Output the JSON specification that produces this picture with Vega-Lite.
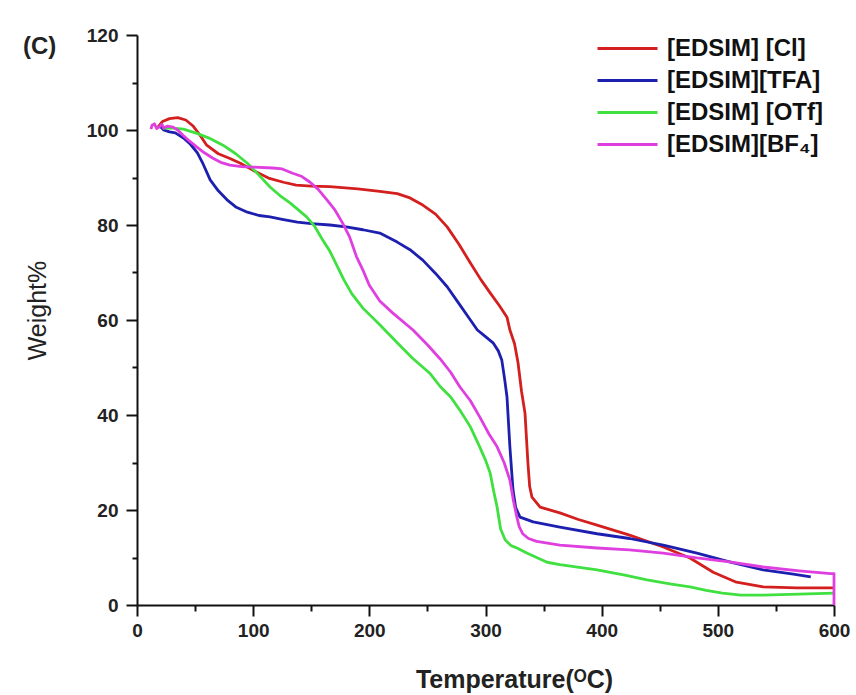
{
  "$schema": "https://vega.github.io/schema/vega-lite/v6.json",
  "width": 697,
  "height": 570,
  "autosize": "none",
  "padding": {"left": 137, "top": 35, "right": 22, "bottom": 90},
  "background": "white",
  "config": {"view": {"stroke": null}, "font": "Liberation Sans"},
  "title": {"text": "(C)", "anchor": "start", "frame": "group", "dx": -114, "offset": -33, "fontSize": 24, "fontWeight": "bold", "font": "Liberation Sans", "color": "#222"},
  "datasets": {
    "tga": [
      {"sample": "[EDSIM] [Cl]", "order": 1, "temp": 18, "weight": 100.6},
      {"sample": "[EDSIM] [Cl]", "order": 2, "temp": 22, "weight": 101.8},
      {"sample": "[EDSIM] [Cl]", "order": 3, "temp": 28, "weight": 102.4},
      {"sample": "[EDSIM] [Cl]", "order": 4, "temp": 35, "weight": 102.6},
      {"sample": "[EDSIM] [Cl]", "order": 5, "temp": 42, "weight": 102.1},
      {"sample": "[EDSIM] [Cl]", "order": 6, "temp": 48, "weight": 100.9},
      {"sample": "[EDSIM] [Cl]", "order": 7, "temp": 54, "weight": 99},
      {"sample": "[EDSIM] [Cl]", "order": 8, "temp": 60, "weight": 96.8},
      {"sample": "[EDSIM] [Cl]", "order": 9, "temp": 70, "weight": 95},
      {"sample": "[EDSIM] [Cl]", "order": 10, "temp": 80, "weight": 94},
      {"sample": "[EDSIM] [Cl]", "order": 11, "temp": 89, "weight": 93},
      {"sample": "[EDSIM] [Cl]", "order": 12, "temp": 100, "weight": 91.5},
      {"sample": "[EDSIM] [Cl]", "order": 13, "temp": 114, "weight": 89.8},
      {"sample": "[EDSIM] [Cl]", "order": 14, "temp": 126, "weight": 89},
      {"sample": "[EDSIM] [Cl]", "order": 15, "temp": 137, "weight": 88.4},
      {"sample": "[EDSIM] [Cl]", "order": 16, "temp": 150, "weight": 88.2},
      {"sample": "[EDSIM] [Cl]", "order": 17, "temp": 166, "weight": 88.1},
      {"sample": "[EDSIM] [Cl]", "order": 18, "temp": 190, "weight": 87.6},
      {"sample": "[EDSIM] [Cl]", "order": 19, "temp": 209, "weight": 87.1},
      {"sample": "[EDSIM] [Cl]", "order": 20, "temp": 224, "weight": 86.6},
      {"sample": "[EDSIM] [Cl]", "order": 21, "temp": 235, "weight": 85.7},
      {"sample": "[EDSIM] [Cl]", "order": 22, "temp": 246, "weight": 84.2},
      {"sample": "[EDSIM] [Cl]", "order": 23, "temp": 257, "weight": 82.3},
      {"sample": "[EDSIM] [Cl]", "order": 24, "temp": 267, "weight": 79.6},
      {"sample": "[EDSIM] [Cl]", "order": 25, "temp": 277, "weight": 76},
      {"sample": "[EDSIM] [Cl]", "order": 26, "temp": 287, "weight": 72},
      {"sample": "[EDSIM] [Cl]", "order": 27, "temp": 296, "weight": 68.5},
      {"sample": "[EDSIM] [Cl]", "order": 28, "temp": 304, "weight": 65.7},
      {"sample": "[EDSIM] [Cl]", "order": 29, "temp": 312, "weight": 63},
      {"sample": "[EDSIM] [Cl]", "order": 30, "temp": 318.5, "weight": 60.6},
      {"sample": "[EDSIM] [Cl]", "order": 31, "temp": 321, "weight": 57.9},
      {"sample": "[EDSIM] [Cl]", "order": 32, "temp": 325, "weight": 55},
      {"sample": "[EDSIM] [Cl]", "order": 33, "temp": 328, "weight": 51},
      {"sample": "[EDSIM] [Cl]", "order": 34, "temp": 331, "weight": 45},
      {"sample": "[EDSIM] [Cl]", "order": 35, "temp": 334, "weight": 40.4},
      {"sample": "[EDSIM] [Cl]", "order": 36, "temp": 336.5, "weight": 30},
      {"sample": "[EDSIM] [Cl]", "order": 37, "temp": 338, "weight": 25},
      {"sample": "[EDSIM] [Cl]", "order": 38, "temp": 340, "weight": 22.7},
      {"sample": "[EDSIM] [Cl]", "order": 39, "temp": 347, "weight": 20.6},
      {"sample": "[EDSIM] [Cl]", "order": 40, "temp": 364, "weight": 19.4},
      {"sample": "[EDSIM] [Cl]", "order": 41, "temp": 380, "weight": 18},
      {"sample": "[EDSIM] [Cl]", "order": 42, "temp": 396, "weight": 16.8},
      {"sample": "[EDSIM] [Cl]", "order": 43, "temp": 424, "weight": 14.7},
      {"sample": "[EDSIM] [Cl]", "order": 44, "temp": 453, "weight": 12.2},
      {"sample": "[EDSIM] [Cl]", "order": 45, "temp": 476, "weight": 9.9},
      {"sample": "[EDSIM] [Cl]", "order": 46, "temp": 496, "weight": 6.9},
      {"sample": "[EDSIM] [Cl]", "order": 47, "temp": 516, "weight": 4.8},
      {"sample": "[EDSIM] [Cl]", "order": 48, "temp": 539, "weight": 3.8},
      {"sample": "[EDSIM] [Cl]", "order": 49, "temp": 568, "weight": 3.6},
      {"sample": "[EDSIM] [Cl]", "order": 50, "temp": 600, "weight": 3.6},

      {"sample": "[EDSIM][TFA]", "order": 1, "temp": 20, "weight": 100.8},
      {"sample": "[EDSIM][TFA]", "order": 2, "temp": 23, "weight": 100},
      {"sample": "[EDSIM][TFA]", "order": 3, "temp": 28, "weight": 99.6},
      {"sample": "[EDSIM][TFA]", "order": 4, "temp": 33, "weight": 99.4},
      {"sample": "[EDSIM][TFA]", "order": 5, "temp": 40, "weight": 98.3},
      {"sample": "[EDSIM][TFA]", "order": 6, "temp": 46, "weight": 97},
      {"sample": "[EDSIM][TFA]", "order": 7, "temp": 52, "weight": 95.2},
      {"sample": "[EDSIM][TFA]", "order": 8, "temp": 57, "weight": 92.8},
      {"sample": "[EDSIM][TFA]", "order": 9, "temp": 63, "weight": 89.5},
      {"sample": "[EDSIM][TFA]", "order": 10, "temp": 70, "weight": 87.2},
      {"sample": "[EDSIM][TFA]", "order": 11, "temp": 77.5, "weight": 85.3},
      {"sample": "[EDSIM][TFA]", "order": 12, "temp": 85, "weight": 83.8},
      {"sample": "[EDSIM][TFA]", "order": 13, "temp": 95, "weight": 82.7},
      {"sample": "[EDSIM][TFA]", "order": 14, "temp": 105, "weight": 82},
      {"sample": "[EDSIM][TFA]", "order": 15, "temp": 114.5, "weight": 81.7},
      {"sample": "[EDSIM][TFA]", "order": 16, "temp": 125, "weight": 81.2},
      {"sample": "[EDSIM][TFA]", "order": 17, "temp": 138, "weight": 80.6},
      {"sample": "[EDSIM][TFA]", "order": 18, "temp": 150, "weight": 80.3},
      {"sample": "[EDSIM][TFA]", "order": 19, "temp": 166, "weight": 80},
      {"sample": "[EDSIM][TFA]", "order": 20, "temp": 180, "weight": 79.6},
      {"sample": "[EDSIM][TFA]", "order": 21, "temp": 194.5, "weight": 79},
      {"sample": "[EDSIM][TFA]", "order": 22, "temp": 209, "weight": 78.3},
      {"sample": "[EDSIM][TFA]", "order": 23, "temp": 224, "weight": 76.4},
      {"sample": "[EDSIM][TFA]", "order": 24, "temp": 235, "weight": 74.8},
      {"sample": "[EDSIM][TFA]", "order": 25, "temp": 246, "weight": 72.6},
      {"sample": "[EDSIM][TFA]", "order": 26, "temp": 257, "weight": 69.8},
      {"sample": "[EDSIM][TFA]", "order": 27, "temp": 267, "weight": 67},
      {"sample": "[EDSIM][TFA]", "order": 28, "temp": 277, "weight": 63.5},
      {"sample": "[EDSIM][TFA]", "order": 29, "temp": 287, "weight": 60},
      {"sample": "[EDSIM][TFA]", "order": 30, "temp": 293, "weight": 57.9},
      {"sample": "[EDSIM][TFA]", "order": 31, "temp": 300, "weight": 56.5},
      {"sample": "[EDSIM][TFA]", "order": 32, "temp": 306.5, "weight": 55.2},
      {"sample": "[EDSIM][TFA]", "order": 33, "temp": 311, "weight": 53.5},
      {"sample": "[EDSIM][TFA]", "order": 34, "temp": 314, "weight": 51.6},
      {"sample": "[EDSIM][TFA]", "order": 35, "temp": 316.5, "weight": 47.5},
      {"sample": "[EDSIM][TFA]", "order": 36, "temp": 318.5, "weight": 43.8},
      {"sample": "[EDSIM][TFA]", "order": 37, "temp": 321, "weight": 33.3},
      {"sample": "[EDSIM][TFA]", "order": 38, "temp": 323.7, "weight": 24.2},
      {"sample": "[EDSIM][TFA]", "order": 39, "temp": 326, "weight": 20.5},
      {"sample": "[EDSIM][TFA]", "order": 40, "temp": 329.7, "weight": 18.5},
      {"sample": "[EDSIM][TFA]", "order": 41, "temp": 341, "weight": 17.5},
      {"sample": "[EDSIM][TFA]", "order": 42, "temp": 364, "weight": 16.4},
      {"sample": "[EDSIM][TFA]", "order": 43, "temp": 396, "weight": 15},
      {"sample": "[EDSIM][TFA]", "order": 44, "temp": 424, "weight": 14},
      {"sample": "[EDSIM][TFA]", "order": 45, "temp": 453, "weight": 12.6},
      {"sample": "[EDSIM][TFA]", "order": 46, "temp": 482, "weight": 10.9},
      {"sample": "[EDSIM][TFA]", "order": 47, "temp": 510, "weight": 9.1},
      {"sample": "[EDSIM][TFA]", "order": 48, "temp": 539, "weight": 7.4},
      {"sample": "[EDSIM][TFA]", "order": 49, "temp": 565, "weight": 6.5},
      {"sample": "[EDSIM][TFA]", "order": 50, "temp": 580, "weight": 5.9},

      {"sample": "[EDSIM] [OTf]", "order": 1, "temp": 22, "weight": 100.4},
      {"sample": "[EDSIM] [OTf]", "order": 2, "temp": 31, "weight": 100.4},
      {"sample": "[EDSIM] [OTf]", "order": 3, "temp": 40, "weight": 100.2},
      {"sample": "[EDSIM] [OTf]", "order": 4, "temp": 51.6, "weight": 99.3},
      {"sample": "[EDSIM] [OTf]", "order": 5, "temp": 62, "weight": 98.3},
      {"sample": "[EDSIM] [OTf]", "order": 6, "temp": 74, "weight": 96.8},
      {"sample": "[EDSIM] [OTf]", "order": 7, "temp": 85, "weight": 95},
      {"sample": "[EDSIM] [OTf]", "order": 8, "temp": 95, "weight": 93},
      {"sample": "[EDSIM] [OTf]", "order": 9, "temp": 105, "weight": 90.5},
      {"sample": "[EDSIM] [OTf]", "order": 10, "temp": 114.5, "weight": 88},
      {"sample": "[EDSIM] [OTf]", "order": 11, "temp": 123, "weight": 86.2},
      {"sample": "[EDSIM] [OTf]", "order": 12, "temp": 132, "weight": 84.6},
      {"sample": "[EDSIM] [OTf]", "order": 13, "temp": 146, "weight": 81.7},
      {"sample": "[EDSIM] [OTf]", "order": 14, "temp": 153, "weight": 79.7},
      {"sample": "[EDSIM] [OTf]", "order": 15, "temp": 160, "weight": 76.8},
      {"sample": "[EDSIM] [OTf]", "order": 16, "temp": 166, "weight": 74.5},
      {"sample": "[EDSIM] [OTf]", "order": 17, "temp": 172, "weight": 71.5},
      {"sample": "[EDSIM] [OTf]", "order": 18, "temp": 178, "weight": 68.5},
      {"sample": "[EDSIM] [OTf]", "order": 19, "temp": 185, "weight": 65.5},
      {"sample": "[EDSIM] [OTf]", "order": 20, "temp": 194.5, "weight": 62.5},
      {"sample": "[EDSIM] [OTf]", "order": 21, "temp": 209, "weight": 59},
      {"sample": "[EDSIM] [OTf]", "order": 22, "temp": 224, "weight": 55.2},
      {"sample": "[EDSIM] [OTf]", "order": 23, "temp": 237, "weight": 52},
      {"sample": "[EDSIM] [OTf]", "order": 24, "temp": 252, "weight": 48.8},
      {"sample": "[EDSIM] [OTf]", "order": 25, "temp": 261, "weight": 46},
      {"sample": "[EDSIM] [OTf]", "order": 26, "temp": 270, "weight": 43.8},
      {"sample": "[EDSIM] [OTf]", "order": 27, "temp": 278, "weight": 41},
      {"sample": "[EDSIM] [OTf]", "order": 28, "temp": 287, "weight": 37.5},
      {"sample": "[EDSIM] [OTf]", "order": 29, "temp": 295, "weight": 33.3},
      {"sample": "[EDSIM] [OTf]", "order": 30, "temp": 300, "weight": 30.5},
      {"sample": "[EDSIM] [OTf]", "order": 31, "temp": 304, "weight": 27.8},
      {"sample": "[EDSIM] [OTf]", "order": 32, "temp": 307, "weight": 24},
      {"sample": "[EDSIM] [OTf]", "order": 33, "temp": 310, "weight": 20.6},
      {"sample": "[EDSIM] [OTf]", "order": 34, "temp": 313, "weight": 16},
      {"sample": "[EDSIM] [OTf]", "order": 35, "temp": 317, "weight": 13.7},
      {"sample": "[EDSIM] [OTf]", "order": 36, "temp": 322, "weight": 12.5},
      {"sample": "[EDSIM] [OTf]", "order": 37, "temp": 327, "weight": 12},
      {"sample": "[EDSIM] [OTf]", "order": 38, "temp": 336, "weight": 10.9},
      {"sample": "[EDSIM] [OTf]", "order": 39, "temp": 353, "weight": 9},
      {"sample": "[EDSIM] [OTf]", "order": 40, "temp": 364, "weight": 8.5},
      {"sample": "[EDSIM] [OTf]", "order": 41, "temp": 396, "weight": 7.4},
      {"sample": "[EDSIM] [OTf]", "order": 42, "temp": 420, "weight": 6.3},
      {"sample": "[EDSIM] [OTf]", "order": 43, "temp": 439, "weight": 5.3},
      {"sample": "[EDSIM] [OTf]", "order": 44, "temp": 460, "weight": 4.4},
      {"sample": "[EDSIM] [OTf]", "order": 45, "temp": 476, "weight": 3.8},
      {"sample": "[EDSIM] [OTf]", "order": 46, "temp": 490, "weight": 3.1},
      {"sample": "[EDSIM] [OTf]", "order": 47, "temp": 504, "weight": 2.5},
      {"sample": "[EDSIM] [OTf]", "order": 48, "temp": 520, "weight": 2.1},
      {"sample": "[EDSIM] [OTf]", "order": 49, "temp": 539, "weight": 2.1},
      {"sample": "[EDSIM] [OTf]", "order": 50, "temp": 570, "weight": 2.3},
      {"sample": "[EDSIM] [OTf]", "order": 51, "temp": 600, "weight": 2.5},

      {"sample": "[EDSIM][BF₄]", "order": 1, "temp": 12, "weight": 100.2},
      {"sample": "[EDSIM][BF₄]", "order": 2, "temp": 13, "weight": 101},
      {"sample": "[EDSIM][BF₄]", "order": 3, "temp": 15, "weight": 101.3},
      {"sample": "[EDSIM][BF₄]", "order": 4, "temp": 17, "weight": 100.3},
      {"sample": "[EDSIM][BF₄]", "order": 5, "temp": 19, "weight": 100.6},
      {"sample": "[EDSIM][BF₄]", "order": 6, "temp": 21.5, "weight": 101.2},
      {"sample": "[EDSIM][BF₄]", "order": 7, "temp": 23, "weight": 100.4},
      {"sample": "[EDSIM][BF₄]", "order": 8, "temp": 26, "weight": 100.8},
      {"sample": "[EDSIM][BF₄]", "order": 9, "temp": 31, "weight": 100.6},
      {"sample": "[EDSIM][BF₄]", "order": 10, "temp": 35, "weight": 100},
      {"sample": "[EDSIM][BF₄]", "order": 11, "temp": 39.6, "weight": 98.9},
      {"sample": "[EDSIM][BF₄]", "order": 12, "temp": 45, "weight": 97.7},
      {"sample": "[EDSIM][BF₄]", "order": 13, "temp": 51.6, "weight": 96.4},
      {"sample": "[EDSIM][BF₄]", "order": 14, "temp": 58, "weight": 95.2},
      {"sample": "[EDSIM][BF₄]", "order": 15, "temp": 65, "weight": 94.1},
      {"sample": "[EDSIM][BF₄]", "order": 16, "temp": 72, "weight": 93.2},
      {"sample": "[EDSIM][BF₄]", "order": 17, "temp": 80, "weight": 92.6},
      {"sample": "[EDSIM][BF₄]", "order": 18, "temp": 90, "weight": 92.3},
      {"sample": "[EDSIM][BF₄]", "order": 19, "temp": 100, "weight": 92.2},
      {"sample": "[EDSIM][BF₄]", "order": 20, "temp": 117, "weight": 92},
      {"sample": "[EDSIM][BF₄]", "order": 21, "temp": 125, "weight": 91.8},
      {"sample": "[EDSIM][BF₄]", "order": 22, "temp": 134, "weight": 90.9},
      {"sample": "[EDSIM][BF₄]", "order": 23, "temp": 142, "weight": 90.2},
      {"sample": "[EDSIM][BF₄]", "order": 24, "temp": 149, "weight": 89},
      {"sample": "[EDSIM][BF₄]", "order": 25, "temp": 156, "weight": 87.5},
      {"sample": "[EDSIM][BF₄]", "order": 26, "temp": 163.5, "weight": 85.3},
      {"sample": "[EDSIM][BF₄]", "order": 27, "temp": 170, "weight": 83.3},
      {"sample": "[EDSIM][BF₄]", "order": 28, "temp": 177, "weight": 80.4},
      {"sample": "[EDSIM][BF₄]", "order": 29, "temp": 183, "weight": 77.5},
      {"sample": "[EDSIM][BF₄]", "order": 30, "temp": 189, "weight": 73.3},
      {"sample": "[EDSIM][BF₄]", "order": 31, "temp": 194.5, "weight": 70.5},
      {"sample": "[EDSIM][BF₄]", "order": 32, "temp": 200, "weight": 67.3},
      {"sample": "[EDSIM][BF₄]", "order": 33, "temp": 209, "weight": 64},
      {"sample": "[EDSIM][BF₄]", "order": 34, "temp": 220, "weight": 61.5},
      {"sample": "[EDSIM][BF₄]", "order": 35, "temp": 237.6, "weight": 57.9},
      {"sample": "[EDSIM][BF₄]", "order": 36, "temp": 250, "weight": 54.8},
      {"sample": "[EDSIM][BF₄]", "order": 37, "temp": 261, "weight": 51.8},
      {"sample": "[EDSIM][BF₄]", "order": 38, "temp": 270, "weight": 49},
      {"sample": "[EDSIM][BF₄]", "order": 39, "temp": 278, "weight": 45.9},
      {"sample": "[EDSIM][BF₄]", "order": 40, "temp": 287, "weight": 43},
      {"sample": "[EDSIM][BF₄]", "order": 41, "temp": 295, "weight": 39.6},
      {"sample": "[EDSIM][BF₄]", "order": 42, "temp": 303, "weight": 36},
      {"sample": "[EDSIM][BF₄]", "order": 43, "temp": 310, "weight": 33.3},
      {"sample": "[EDSIM][BF₄]", "order": 44, "temp": 316, "weight": 30},
      {"sample": "[EDSIM][BF₄]", "order": 45, "temp": 321, "weight": 26.3},
      {"sample": "[EDSIM][BF₄]", "order": 46, "temp": 324, "weight": 22},
      {"sample": "[EDSIM][BF₄]", "order": 47, "temp": 327, "weight": 18.5},
      {"sample": "[EDSIM][BF₄]", "order": 48, "temp": 329, "weight": 16.5},
      {"sample": "[EDSIM][BF₄]", "order": 49, "temp": 332, "weight": 15},
      {"sample": "[EDSIM][BF₄]", "order": 50, "temp": 337, "weight": 14},
      {"sample": "[EDSIM][BF₄]", "order": 51, "temp": 344, "weight": 13.4},
      {"sample": "[EDSIM][BF₄]", "order": 52, "temp": 364, "weight": 12.6},
      {"sample": "[EDSIM][BF₄]", "order": 53, "temp": 396, "weight": 12},
      {"sample": "[EDSIM][BF₄]", "order": 54, "temp": 424, "weight": 11.6},
      {"sample": "[EDSIM][BF₄]", "order": 55, "temp": 453, "weight": 10.9},
      {"sample": "[EDSIM][BF₄]", "order": 56, "temp": 482, "weight": 9.9},
      {"sample": "[EDSIM][BF₄]", "order": 57, "temp": 510, "weight": 9.1},
      {"sample": "[EDSIM][BF₄]", "order": 58, "temp": 539, "weight": 8},
      {"sample": "[EDSIM][BF₄]", "order": 59, "temp": 570, "weight": 7.2},
      {"sample": "[EDSIM][BF₄]", "order": 60, "temp": 597, "weight": 6.6},
      {"sample": "[EDSIM][BF₄]", "order": 61, "temp": 600, "weight": 6.6},
      {"sample": "[EDSIM][BF₄]", "order": 62, "temp": 600, "weight": 0}
    ]
  },
  "data": {"name": "tga"},
  "mark": {"type": "line", "strokeWidth": 2.8, "strokeJoin": "round"},
  "encoding": {
    "x": {
      "field": "temp", "type": "quantitative",
      "scale": {"domain": [0, 600], "nice": false, "zero": false},
      "axis": {
        "title": "Temperature(ᴼC)",
        "values": [0, 50, 100, 150, 200, 250, 300, 350, 400, 450, 500, 550, 600],
        "labelExpr": "datum.value % 100 === 0 ? datum.label : ''",
        "grid": false,
        "domainColor": "#111", "domainWidth": 2,
        "tickColor": "#111", "tickWidth": 2,
        "tickSize": {"condition": {"test": "datum.value % 100 === 0", "value": 11}, "value": 6},
        "labelFont": "Liberation Sans", "labelFontSize": 19, "labelFontWeight": "bold", "labelColor": "#222",
        "labelPadding": 5, "labelFlush": false, "labelOverlap": false,
        "titleFont": "Liberation Sans", "titleFontSize": 25, "titleFontWeight": "bold", "titleColor": "#222",
        "titlePadding": 27,
        "titleX": 377
      }
    },
    "y": {
      "field": "weight", "type": "quantitative",
      "scale": {"domain": [0, 120], "nice": false, "zero": false},
      "axis": {
        "title": "Weight%",
        "values": [0, 10, 20, 30, 40, 50, 60, 70, 80, 90, 100, 110, 120],
        "labelExpr": "datum.value % 20 === 0 ? datum.label : ''",
        "grid": false,
        "domainColor": "#111", "domainWidth": 2,
        "tickColor": "#111", "tickWidth": 2,
        "tickSize": {"condition": {"test": "datum.value % 20 === 0", "value": 11}, "value": 5},
        "labelFont": "Liberation Sans", "labelFontSize": 19, "labelFontWeight": "bold", "labelColor": "#222",
        "labelPadding": 8, "labelFlush": false, "labelOverlap": false,
        "titleFont": "Liberation Sans", "titleFontSize": 25, "titleFontWeight": "normal", "titleColor": "#222",
        "titlePadding": 36,
        "titleY": 275
      }
    },
    "color": {
      "field": "sample", "type": "nominal",
      "scale": {
        "domain": ["[EDSIM] [Cl]", "[EDSIM][TFA]", "[EDSIM] [OTf]", "[EDSIM][BF₄]"],
        "range": ["#d3201f", "#1d1fae", "#40e040", "#e03fe0"]
      },
      "legend": {
        "title": null,
        "orient": "none",
        "legendX": 459,
        "legendY": -3,
        "symbolType": "M-1,0H3",
        "symbolSize": 900,
        "symbolStrokeWidth": 3,
        "labelFont": "Liberation Sans", "labelFontSize": 24, "labelFontWeight": "bold", "labelColor": "#111",
        "labelOffset": 38,
        "labelLimit": 300,
        "rowPadding": 3
      }
    },
    "order": {"field": "order", "type": "quantitative"}
  }
}
